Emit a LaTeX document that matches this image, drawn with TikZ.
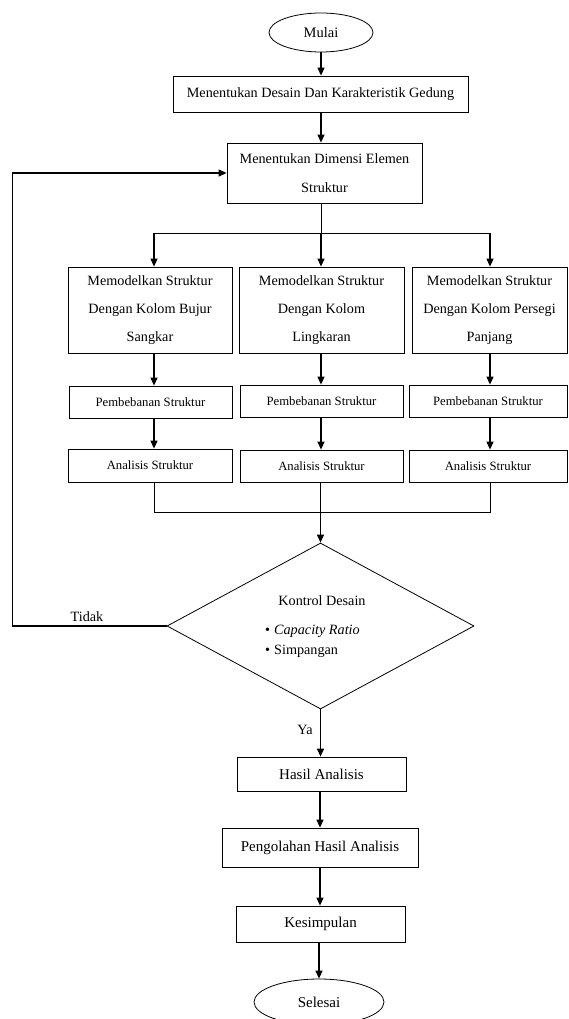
\documentclass[tikz,border=0pt]{standalone}
\usepackage{fontspec}
\setmainfont{Liberation Serif}
\usetikzlibrary{shapes.geometric,arrows.meta}
\begin{document}
\begin{tikzpicture}[x=1pt,y=-1pt,
  box/.style={draw, line width=0.8pt, inner sep=0pt, align=center, font=\fontsize{14.2}{28}\selectfont},
  sbox/.style={box, font=\fontsize{12.7}{15}\selectfont},
  bbox/.style={box, font=\fontsize{15}{18}\selectfont},
  term/.style={draw, ellipse, line width=0.8pt, inner sep=0pt, font=\fontsize{14.5}{17}\selectfont},
  arr/.style={line width=1.2pt, -{Triangle[length=8pt,width=7pt]}},
  ln/.style={line width=0.9pt},
  lbl/.style={inner sep=0pt, font=\fontsize{14.2}{17}\selectfont}
]
\useasboundingbox (0,0) rectangle (568,1019);

% terminals and boxes
\node[term, minimum width=104pt, minimum height=39pt] (mulai) at (321,32.5) {Mulai};
\node[box, minimum width=295pt, minimum height=36pt] (b1) at (320.5,94) {Menentukan Desain Dan Karakteristik Gedung};
\node[box, minimum width=195pt, minimum height=60pt, font=\fontsize{14.2}{29}\selectfont] (b2) at (324.5,173) {Menentukan Dimensi Elemen\\Struktur};

\node[box, minimum width=164pt, minimum height=86pt] (A1) at (150,310) {Memodelkan Struktur\\Dengan Kolom Bujur\\Sangkar};
\node[box, minimum width=165pt, minimum height=86pt] (B1) at (321.5,310) {Memodelkan Struktur\\Dengan Kolom\\Lingkaran};
\node[box, minimum width=155pt, minimum height=86pt] (C1) at (489.5,310) {Memodelkan Struktur\\Dengan Kolom Persegi\\Panjang};

\node[sbox, minimum width=163pt, minimum height=32pt] (PA) at (150.5,402) {Pembebanan Struktur};
\node[sbox, minimum width=163pt, minimum height=32pt] (PB) at (321.5,401) {Pembebanan Struktur};
\node[sbox, minimum width=158pt, minimum height=32pt] (PC) at (488,401) {Pembebanan Struktur};

\node[sbox, minimum width=164pt, minimum height=33pt] (AA) at (150,465.5) {Analisis Struktur};
\node[sbox, minimum width=163pt, minimum height=32pt] (AB) at (321.5,466) {Analisis Struktur};
\node[sbox, minimum width=158pt, minimum height=32pt] (AC) at (488,466) {Analisis Struktur};

\node[draw, diamond, minimum width=307pt, minimum height=166pt, inner sep=0pt, line width=0.8pt] (dia) at (320.5,626) {};
\node[lbl] (kd) at (322,601) {Kontrol Desain};
\node[lbl, anchor=west, align=left, font=\fontsize{14.2}{20}\selectfont] (kl) at (265,641) {\textbullet\hspace{4pt}\textit{Capacity Ratio}\\\textbullet\hspace{4pt}Simpangan};

\node[bbox, minimum width=169pt, minimum height=34pt] (hasil) at (321.5,774) {Hasil Analisis};
\node[bbox, minimum width=196pt, minimum height=39pt] (olah) at (320,847.5) {Pengolahan Hasil Analisis};
\node[bbox, minimum width=169pt, minimum height=36pt] (kes) at (320.5,924) {Kesimpulan};
\node[term, minimum width=130pt, minimum height=46pt, font=\fontsize{15}{18}\selectfont] (sel) at (319,1002) {Selesai};

% labels
\node[lbl] (tidak) at (87,617) {Tidak};
\node[lbl] (ya) at (305,730) {Ya};

% coordinates
\coordinate (br) at (321,233);
\coordinate (brA) at (154,233);
\coordinate (brC) at (490,233);
\coordinate (mA) at (154,512);
\coordinate (mC) at (490,512);
\coordinate (fb) at (12.5,626);

% connectors
\draw[arr] (mulai.south) -- (mulai.south |- b1.north);
\draw[arr] (b1.south -| mulai.south) -- (mulai.south |- b2.north);
\draw[ln] (br |- b2.south) -- (br);
\draw[ln] (brA) -- (brC);
\draw[arr] (br) -- (br |- B1.north);
\draw[arr] (brA) -- (brA |- A1.north);
\draw[arr] (brC) -- (brC |- C1.north);

\draw[arr] (A1.south -| brA) -- (brA |- PA.north);
\draw[arr] (B1.south -| br) -- (br |- PB.north);
\draw[arr] (C1.south -| brC) -- (brC |- PC.north);
\draw[arr] (PA.south -| brA) -- (brA |- AA.north);
\draw[arr] (PB.south -| br) -- (br |- AB.north);
\draw[arr] (PC.south -| brC) -- (brC |- AC.north);

\draw[ln] (AA.south -| mA) -- (mA) -- (mC) -- (AC.south -| mC);
\draw[arr] (dia.north |- AB.south) -- (dia.north);

\draw[arr] (dia.west) -- (fb) |- (b2.west);
\draw[arr] (dia.south) -- (dia.south |- hasil.north);
\draw[arr] (hasil.south -| olah.north) -- (olah.north);
\draw[arr] (olah.south) -- (olah.south |- kes.north);
\draw[arr] (kes.south -| sel.north) -- (sel.north);
\end{tikzpicture}
\end{document}
